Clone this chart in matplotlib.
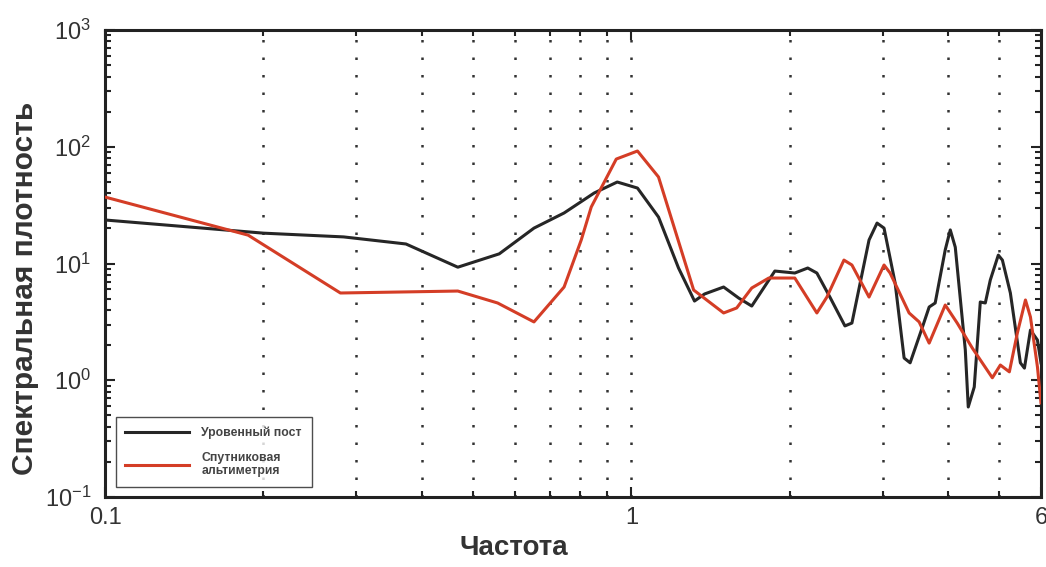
import matplotlib
matplotlib.use("Agg")
import matplotlib.pyplot as plt
from matplotlib.ticker import FixedLocator, NullFormatter, LogLocator

plt.rcParams['font.family'] = ['Liberation Sans', 'DejaVu Sans']

# Data (frequency, spectral density)
black_freq = [0.1, 0.2, 0.284, 0.373, 0.468, 0.561, 0.653, 0.745, 0.85, 0.94, 1.027,
              1.126, 1.229, 1.318, 1.377, 1.497, 1.599, 1.693, 1.873, 2.044, 2.163,
              2.251, 2.383, 2.545, 2.624, 2.828, 2.929, 3.02, 3.17, 3.297, 3.385,
              3.567, 3.679, 3.777, 3.947, 4.035, 4.124, 4.309, 4.365, 4.481, 4.601,
              4.703, 4.807, 4.978, 5.068, 5.248, 5.483, 5.581, 5.73, 5.908, 6.0]
black_psd = [23.6, 18.2, 16.9, 14.7, 9.3, 12.1, 20.1, 27.1, 40.2, 49.9, 44.3,
             25.0, 9.15, 4.77, 5.48, 6.29, 5.06, 4.32, 8.62, 8.29, 9.15,
             8.29, 5.16, 2.92, 3.09, 15.9, 22.2, 20.1, 6.81, 1.55, 1.41,
             2.80, 4.24, 4.59, 13.1, 19.4, 13.8, 1.82, 0.59, 0.875, 4.68,
             4.59, 7.22, 11.8, 10.7, 5.59, 1.41, 1.27, 2.69, 2.21, 1.41]

red_freq = [0.1, 0.187, 0.28, 0.468, 0.557, 0.653, 0.745, 0.803, 0.839, 0.936, 1.027,
            1.126, 1.313, 1.497, 1.585, 1.693, 1.824, 2.044, 2.251, 2.352, 2.534,
            2.624, 2.828, 3.02, 3.101, 3.37, 3.521, 3.679, 3.947, 4.159, 4.442,
            4.85, 5.023, 5.225, 5.411, 5.606, 5.73, 5.908, 6.0]
red_psd = [37.1, 17.5, 5.59, 5.81, 4.59, 3.16, 6.29, 15.9, 30.5, 78.5, 92.0,
           55.1, 5.93, 3.77, 4.16, 6.17, 7.51, 7.51, 3.77, 5.16, 10.7,
           9.71, 5.16, 9.71, 8.29, 3.77, 3.16, 2.08, 4.41, 3.09, 1.89,
           1.05, 1.35, 1.18, 2.54, 4.87, 3.48, 1.30, 0.64]

series_labels = ['Уровенный пост', 'Спутниковая\nальтиметрия']
x_major = [0.1, 1, 6]
x_major_labels = ['0.1', '1', '6']
x_minor = [0.2, 0.3, 0.4, 0.5, 0.6, 0.7, 0.8, 0.9, 2, 3, 4, 5]

fig = plt.figure(figsize=(10.46, 5.67), dpi=100)
ax = fig.add_axes([0.1004, 0.1235, 0.8948, 0.8235])

ax.set_xscale('log')
ax.set_yscale('log')
ax.set_xlim(0.1, 6)
ax.set_ylim(0.1, 1000)

# dotted vertical grid
for xv in x_minor + [1]:
    ax.axvline(xv, color='#333333', linestyle=(0, (1, 6)), linewidth=1.8, zorder=1)

ax.plot(black_freq, black_psd, color='#262626', linewidth=2.2, label=series_labels[0],
        zorder=3, solid_joinstyle='round')
ax.plot(red_freq, red_psd, color='#d43d26', linewidth=2.2, label=series_labels[1],
        zorder=4, solid_joinstyle='round')

ax.xaxis.set_major_locator(FixedLocator(x_major))
ax.set_xticklabels(x_major_labels)
ax.xaxis.set_minor_locator(FixedLocator(x_minor))
ax.xaxis.set_minor_formatter(NullFormatter())
ax.yaxis.set_major_locator(LogLocator(base=10, numticks=10))
ax.yaxis.set_minor_locator(LogLocator(base=10, subs=range(2, 10), numticks=20))
ax.yaxis.set_minor_formatter(NullFormatter())

ax.tick_params(which='both', direction='in', top=True, right=True, colors='#222222',
               labelcolor='#333333', labelsize=17, width=1.5)
ax.tick_params(which='major', length=7)
ax.tick_params(which='minor', length=4)
ax.tick_params(axis='x', which='major', pad=7)
ax.tick_params(axis='y', which='major', pad=10)
for s in ax.spines.values():
    s.set_linewidth(2.2)
    s.set_color('#222222')

ax.set_xlabel('Частота', fontsize=20, fontweight='bold', color='#333333', va='center')
ax.xaxis.set_label_coords(0.437, -0.109)
ax.set_ylabel('Спектральная плотность', fontsize=21.5, fontweight='bold', color='#333333', va='center')
ax.yaxis.set_label_coords(-0.085, 0.447)

leg = ax.legend(loc='lower left', bbox_to_anchor=(0.0075, 0.013),
                prop={'weight': 'bold', 'size': 8.8}, frameon=True, fancybox=False,
                edgecolor='#222222', handlelength=5.2, labelspacing=1.0, borderpad=0.8,
                handletextpad=1.0, borderaxespad=0.3)
leg.get_frame().set_linewidth(1.0)
for t in leg.get_texts():
    t.set_color('#444444')

fig.savefig('out.png', dpi=100)
